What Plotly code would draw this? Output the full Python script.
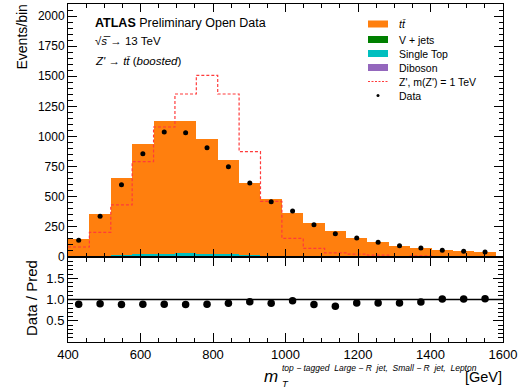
import plotly.graph_objects as go

# ---------------- data ----------------
bin_lo = 400
bin_width = 59
n_bins = 20
edges = [bin_lo + bin_width * i for i in range(n_bins + 1)]
centers = [bin_lo + bin_width * (i + 0.5) for i in range(n_bins)]

ttbar = [145, 351, 641, 913, 1098, 1097, 952, 779, 598, 472,
         359, 274, 208, 154, 119, 88, 70, 53, 46, 40]
single_top = [3, 7, 14, 18, 24, 25, 22, 20, 14, 10,
              7, 5, 4, 3, 2, 2, 1, 1, 1, 1]
vjets = [1, 2, 3, 3, 4, 4, 3, 3, 2, 2,
         2, 1, 1, 1, 1, 1, 1, 1, 0.5, 0.5]
diboson = [0.3, 0.5, 0.6, 0.7, 0.8, 0.8, 0.7, 0.6, 0.5, 0.4,
           0.3, 0.3, 0.2, 0.2, 0.2, 0.1, 0.1, 0.1, 0.1, 0.1]
zprime = [83, 205, 432, 791, 1079, 1353, 1508, 1353, 874, 462,
          155, 72, 34, 24, 16, 4, 10, 3, 2, 1]
data = [139, 338, 600, 858, 1037, 1032, 907, 750, 614, 459,
        382, 268, 194, 158, 122, 93, 75, 55, 47, 41]
ratio = [0.89, 0.90, 0.88, 0.89, 0.89, 0.88, 0.89, 0.91, 0.95, 0.91,
         0.97, 0.88, 0.84, 0.92, 0.92, 0.92, 0.94, 1.01, 1.01, 1.02]

# ---------------- geometry helpers ----------------
W, H = 522, 391
L, R, T, B = 68, 503, 4, 342
Y_SPLIT = 257


def px(x):
    return (x - L) / (R - L)


def py(y):
    return (B - y) / (B - T)


FONT = "Liberation Sans, Arial, Helvetica, sans-serif"
C_TT = "#ff7f0e"
C_VJ = "#008000"
C_ST = "#00bfbf"
C_DB = "#9467bd"
C_ZP = "#ff3b3b"

fig = go.Figure()

for name, vals, col in [("V + jets", vjets, C_VJ), ("Diboson", diboson, C_DB),
                        ("Single Top", single_top, C_ST), ("ttbar", ttbar, C_TT)]:
    fig.add_trace(go.Bar(x=centers, y=vals, width=bin_width, name=name,
                         marker=dict(color=col, line=dict(width=0)),
                         showlegend=False, xaxis="x", yaxis="y"))

fig.add_trace(go.Scatter(x=edges, y=zprime + [zprime[-1]], mode="lines",
                         line=dict(shape="hv", color=C_ZP, width=1.2, dash="3px,2px"),
                         showlegend=False, xaxis="x", yaxis="y"))
fig.add_trace(go.Scatter(x=centers, y=data, mode="markers",
                         marker=dict(color="black", size=5),
                         showlegend=False, xaxis="x", yaxis="y"))
fig.add_trace(go.Scatter(x=centers, y=ratio, mode="markers",
                         marker=dict(color="black", size=7.5),
                         showlegend=False, xaxis="x2", yaxis="y2"))

split = py(Y_SPLIT)
axcommon = dict(showline=True, linecolor="black", linewidth=1, mirror="ticks",
                ticks="inside", tickcolor="black", showgrid=False, zeroline=False)

fig.update_layout(
    width=W, height=H,
    margin=dict(l=L, r=W - R, t=T, b=H - B),
    paper_bgcolor="white", plot_bgcolor="white",
    barmode="stack", bargap=0,
    font=dict(family=FONT, color="black"),
    xaxis=dict(domain=[0, 1], range=[400, 1600], anchor="y", showticklabels=False,
               dtick=200, tick0=400, ticklen=8,
               minor=dict(ticks="inside", dtick=50, ticklen=4, tickcolor="black"),
               **axcommon),
    yaxis=dict(domain=[split, 1], range=[0, 2100], anchor="x",
               dtick=250, tick0=0, ticklen=9, tickfont=dict(size=12),
               minor=dict(ticks="inside", dtick=50, ticklen=4.5, tickcolor="black"),
               **axcommon),
    xaxis2=dict(domain=[0, 1], range=[400, 1600], anchor="y2",
                dtick=200, tick0=400, ticklen=9, tickfont=dict(size=13),
                minor=dict(ticks="inside", dtick=50, ticklen=4.5, tickcolor="black"),
                **axcommon),
    yaxis2=dict(domain=[0, split], range=[0, 2], anchor="x2",
                tickmode="array", tickvals=[0.5, 1.0, 1.5], ticktext=["0.5", "1.0", "1.5"],
                ticklen=10, tickfont=dict(size=13),
                minor=dict(ticks="inside", tickmode="linear", tick0=0, dtick=0.1,
                           ticklen=5, tickcolor="black"),
                **axcommon),
)

# ratio reference line
fig.add_shape(type="line", xref="x2", yref="y2", x0=400, x1=1600, y0=1, y1=1,
              line=dict(color="black", width=1.6))

ann = []


def text(x, y, s, size, xanchor="left", yanchor="middle", angle=0):
    ann.append(dict(x=px(x), y=py(y), xref="paper", yref="paper", text=s,
                    showarrow=False, xanchor=xanchor, yanchor=yanchor,
                    textangle=angle, font=dict(size=size, family=FONT, color="black")))


# axis titles
text(21, 3, "Events/bin", 14, xanchor="center", yanchor="top", angle=-90)
text(31, 298, "Data / Pred", 15, xanchor="center", yanchor="middle", angle=-90)
text(280, 376, "<i>m</i>", 17, xanchor="right")
text(280, 368, "<i>top − tagged  Large − R  jet,  Small − R  jet,  Lepton</i>", 8.5)
text(280, 383, "<i>T</i>", 9.5)
text(504, 377, "[GeV]", 14.5, xanchor="right")

# labels
text(93, 23, "<b>ATLAS</b> Preliminary Open Data", 12.5)
text(93, 41, "√<i>s</i>\u0305 → 13 TeV", 11.5)
text(93, 61, "<i>Z'</i> → <i>t</i><i>t\u0304</i> (<i>boosted</i>)", 11.5)

# manual legend
leg_x0, leg_x1, leg_tx = 368, 388, 397
rows = [("<i>t</i><i>t\u0304</i>", C_TT, "box", 24),
        ("V + jets", C_VJ, "box", 39.5),
        ("Single Top", C_ST, "box", 53.5),
        ("Diboson", C_DB, "box", 67.5),
        ("Z', m(Z') = 1 TeV", C_ZP, "line", 81.5),
        ("Data", "black", "dot", 95.5)]
for label, col, kind, yy in rows:
    if kind == "box":
        fig.add_shape(type="rect", xref="paper", yref="paper",
                      x0=px(leg_x0), x1=px(leg_x1), y0=py(yy + 3.5), y1=py(yy - 3.5),
                      fillcolor=col, line=dict(width=0))
    elif kind == "line":
        fig.add_shape(type="line", xref="paper", yref="paper",
                      x0=px(leg_x0), x1=px(leg_x1), y0=py(yy), y1=py(yy),
                      line=dict(color=col, width=1, dash="2px,1.5px"))
    else:
        fig.add_shape(type="circle", xref="paper", yref="paper",
                      x0=px(376.5), x1=px(379.5), y0=py(yy + 1.5), y1=py(yy - 1.5),
                      fillcolor="black", line=dict(width=0))
    text(leg_tx, yy, label, 10.5)

fig.update_layout(annotations=ann)
fig.write_html("out.html")
